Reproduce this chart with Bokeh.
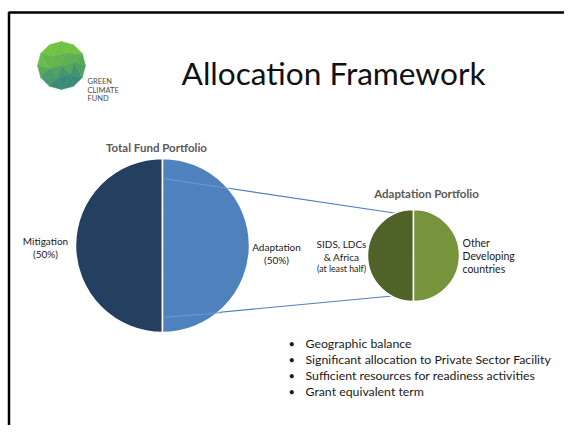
import math
from bokeh.plotting import figure
from bokeh.models import Range1d
from bokeh.embed import file_html
from bokeh.resources import INLINE
from bokeh.core.properties import value

# ---- data ----
total_title = "Total Fund Portfolio"
total_labels = ["Mitigation", "Adaptation"]
total_pct = ["(50%)", "(50%)"]
total_shares = [50, 50]
total_colors = ["#243F60", "#4F81BD"]

adapt_title = "Adaptation Portfolio"
adapt_labels = ["SIDS, LDCs & Africa", "Other Developing countries"]
adapt_shares = [50, 50]
adapt_colors = ["#4F6228", "#77933C"]

bullets = ["Geographic balance",
           "Significant allocation to Private Sector Facility",
           "Sufficient resources for readiness activities",
           "Grant equivalent term"]

FONT = value("Lato")

p = figure(width=564, height=425, x_range=Range1d(0, 564), y_range=Range1d(425, 0),
           output_backend="svg", toolbar_location=None, min_border=0,
           x_axis_location=None, y_axis_location=None)
p.grid.visible = False
p.outline_line_color = None
p.background_fill_color = "white"

# slide border
p.line([8.5, 8.5, 570], [430, 12, 12], line_color="black", line_width=2.5)

# ---- logo ----
lcx, lcy, lr = 61, 65, 24
outer = [(lcx + lr * math.cos(math.radians(a)), lcy - lr * math.sin(math.radians(a))) for a in range(0, 360, 30)]
inner = [(lcx + 13 * math.cos(math.radians(a + 15)), lcy - 13 * math.sin(math.radians(a + 15))) for a in range(0, 360, 60)]
tris = []
for i in range(6):
    tris.append([(lcx, lcy), inner[i], inner[(i + 1) % 6]])
for i in range(6):
    o0, o1, o2 = outer[2 * i], outer[2 * i + 1], outer[(2 * i + 2) % 12]
    tris.append([inner[i], o0, o1])
    tris.append([inner[i], o1, inner[(i + 1) % 6]])
    tris.append([inner[(i + 1) % 6], o1, o2])

def mix(c1, c2, t):
    t = max(0.0, min(1.0, t))
    return "#%02x%02x%02x" % tuple(int(c1[k] + (c2[k] - c1[k]) * t) for k in range(3))

top = (112, 196, 66)
bot = (40, 118, 140)
xs, ys, cols = [], [], []
for j, tri in enumerate(tris):
    mx = sum(v[0] for v in tri) / 3
    my = sum(v[1] for v in tri) / 3
    t = (my - (lcy - lr)) / (2 * lr) * 1.1 + (mx - lcx) / lr * 0.15 - 0.22
    shade = [0.0, 0.07, -0.06][j % 3]
    xs.append([v[0] for v in tri])
    ys.append([v[1] for v in tri])
    cols.append(mix(top, bot, t + shade))
p.patches(xs, ys, fill_color=cols, line_color=cols, line_width=0.5)
p.text([87, 87, 87], [81, 89.5, 98], text=["GREEN", "CLIMATE", "FUND"], text_font=FONT,
       text_font_size="7.5px", text_color="#4a4a4a", text_baseline="middle")

# ---- title ----
p.text([333], [72], text=["Allocation Framework"], text_font=FONT, text_font_size="31.6px",
       text_color="#111111", text_align="center", text_baseline="middle")

def pie(cx, cy, r, shares, colors):
    tot = float(sum(shares))
    starts, ends = [], []
    a = math.pi / 2
    for s in shares:
        starts.append(a)
        a += 2 * math.pi * s / tot
        ends.append(a)
    p.wedge(x=[cx] * len(shares), y=[cy] * len(shares), radius=r,
            start_angle=starts, end_angle=ends, direction="anticlock",
            fill_color=colors, line_color="white", line_width=1.5)

# connector lines
p.segment(x0=[163, 163], y0=[178, 317], x1=[397, 397], y1=[213, 295],
          line_color="#4F81BD", line_width=1.2)

pie(162, 245, 87, total_shares, total_colors)
pie(413, 255, 46, adapt_shares, adapt_colors)

# connector parts inside big pie (lighter)
p.segment(x0=[163, 163], y0=[178, 317], x1=[228, 222], y1=[188, 312],
          line_color="#6f9bd0", line_width=1.0)

GRAY = "#595959"
p.text([156], [147], text=[total_title], text_font=FONT, text_font_size="11.5px",
       text_font_style="bold", text_color=GRAY, text_align="center", text_baseline="middle")
p.text([426], [193], text=[adapt_title], text_font=FONT, text_font_size="11.5px",
       text_font_style="bold", text_color=GRAY, text_align="center", text_baseline="middle")

LBL = "#1a1a1a"
p.text([45, 45], [240, 253], text=[total_labels[0], total_pct[0]], text_font=FONT,
       text_font_size="10px", text_color=LBL, text_align="center", text_baseline="middle")
p.text([276, 276], [246, 259], text=[total_labels[1], total_pct[1]], text_font=FONT,
       text_font_size="10px", text_color=LBL, text_align="center", text_baseline="middle")

a0 = adapt_labels[0].split(" & ")
p.text([341, 341], [243, 256], text=[a0[0], "& " + a0[1]], text_font=FONT,
       text_font_size="10px", text_color=LBL, text_align="center", text_baseline="middle")
p.text([341], [268], text=["(at least half)"], text_font=FONT,
       text_font_size="8.8px", text_color=LBL, text_align="center", text_baseline="middle")
a1 = adapt_labels[1].split(" ")
p.text([462, 462, 462], [242, 255, 268], text=[a1[0], a1[1], a1[2]], text_font=FONT,
       text_font_size="10.5px", text_color=LBL, text_align="left", text_baseline="middle")

# bullets
by = [343 + 16 * i for i in range(len(bullets))]
p.text([288] * len(bullets), by, text=["\u2022"] * len(bullets), text_font=FONT,
       text_font_size="11px", text_color=LBL, text_baseline="middle")
p.text([305] * len(bullets), by, text=bullets, text_font=FONT,
       text_font_size="12.3px", text_color=LBL, text_baseline="middle")

open("out.html", "w").write(file_html(p, INLINE))
